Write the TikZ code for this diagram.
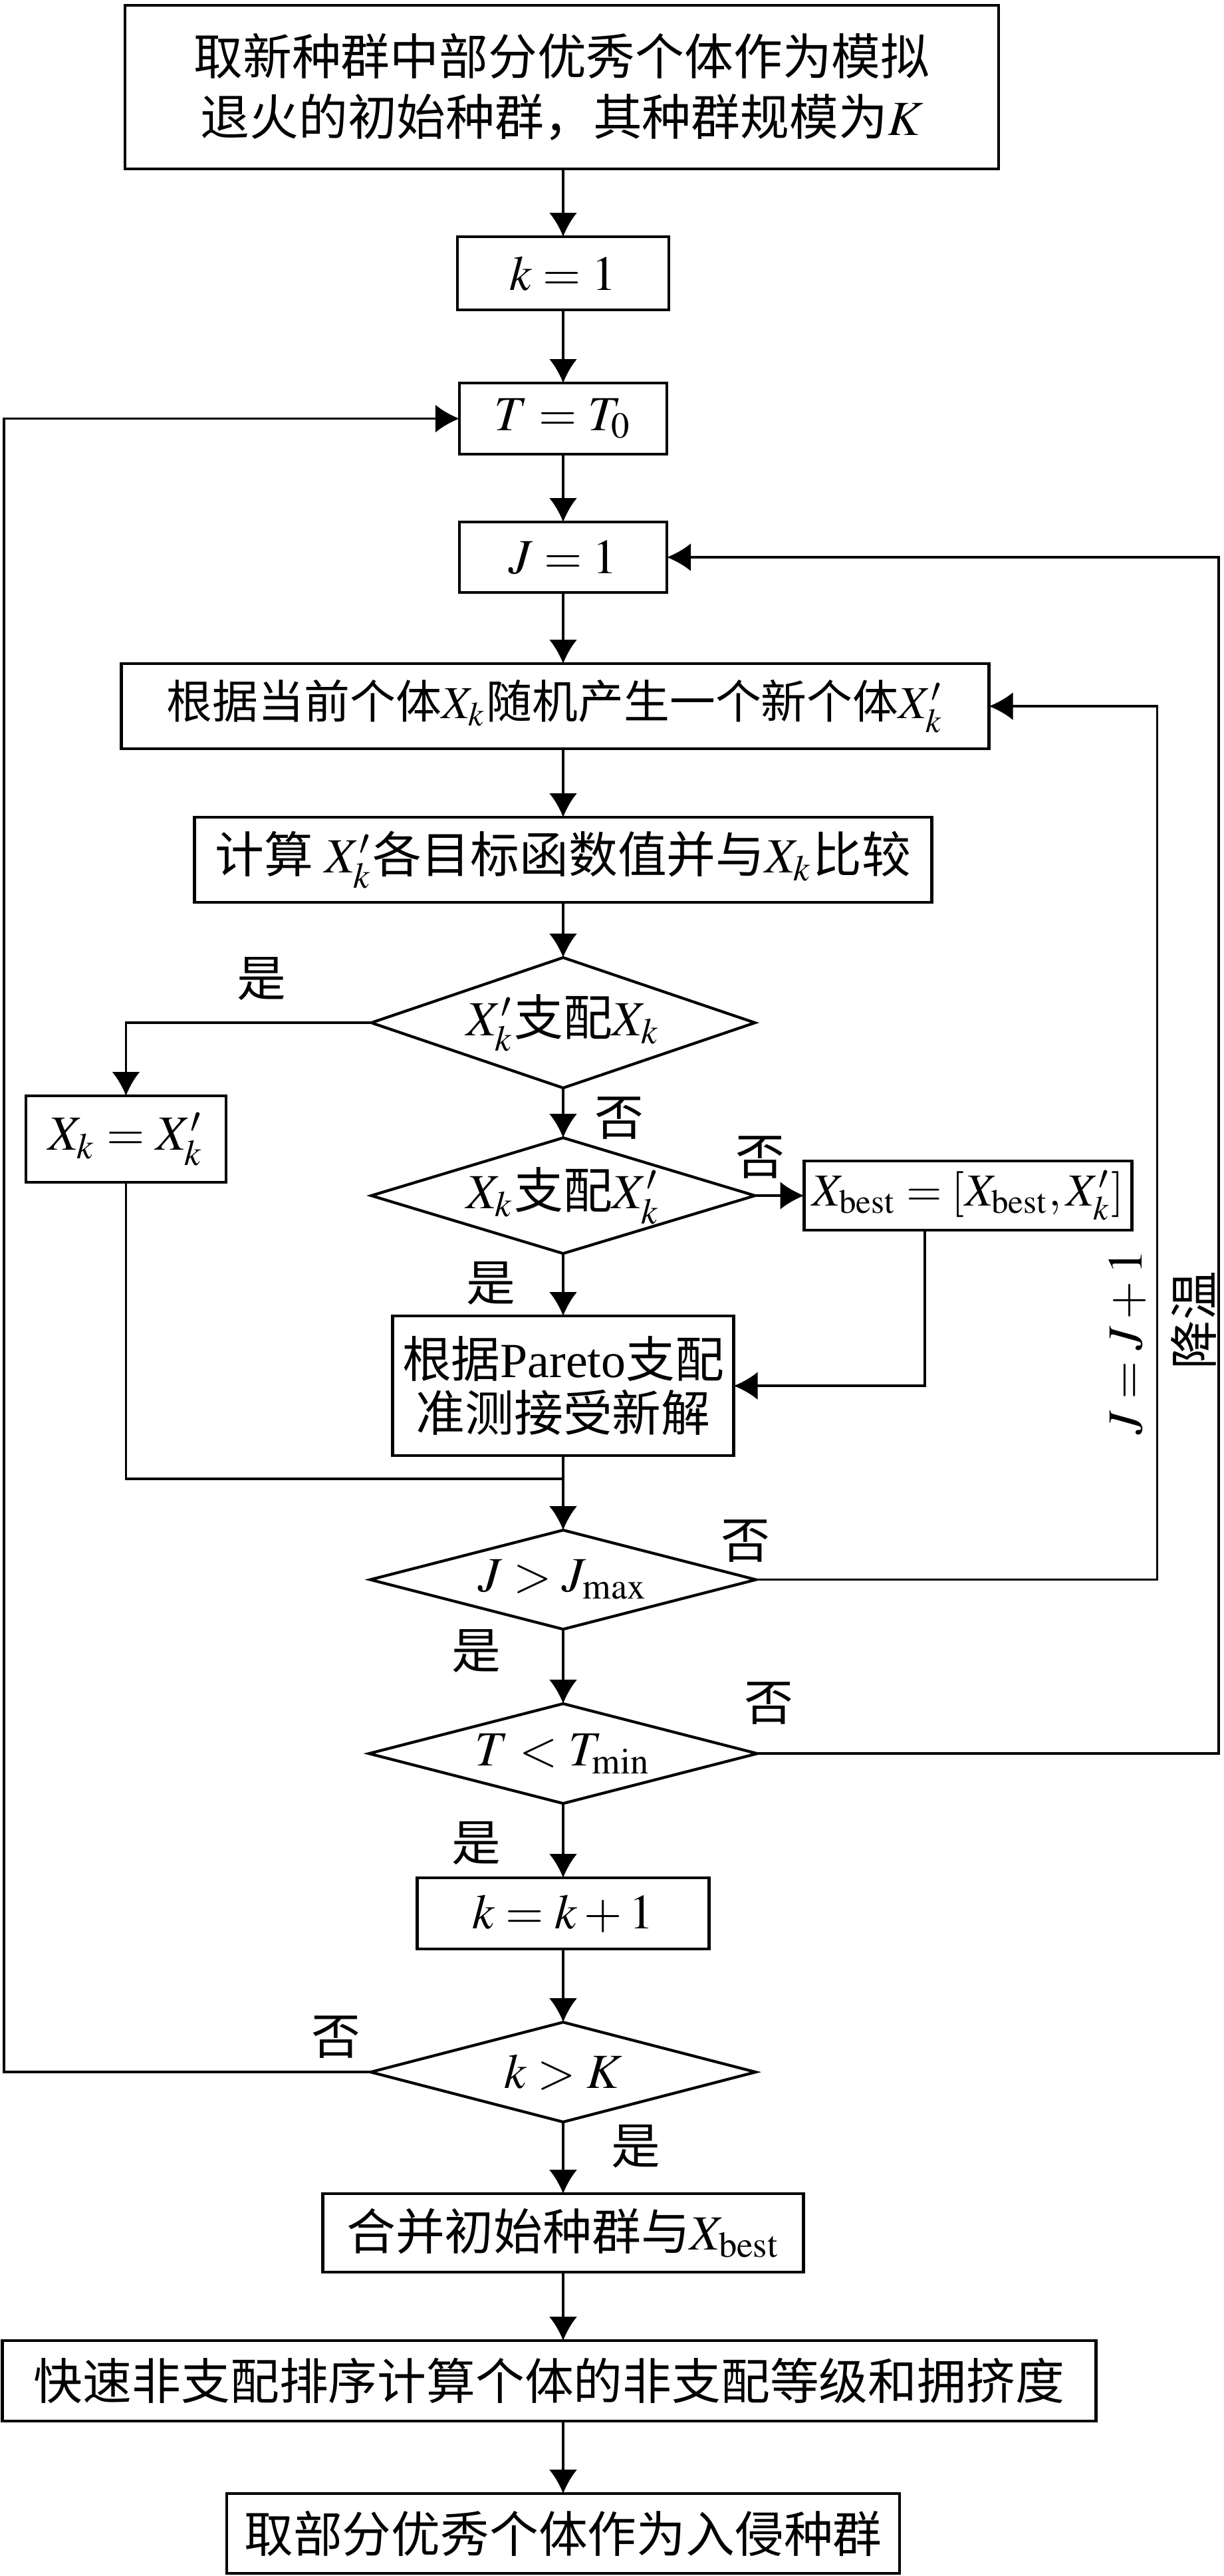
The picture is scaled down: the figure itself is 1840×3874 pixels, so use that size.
\documentclass[tikz,border=0pt]{standalone}
\usepackage{mathptmx}
\usepackage[no-math]{fontspec}
\setmainfont{Liberation Serif}
\newfontfamily\cjkfont{Noto Sans CJK SC}
\usetikzlibrary{shapes.geometric,arrows.meta,positioning}
\newcommand{\zhfont}{\cjkfont\fontsize{10.5}{13}\selectfont}

\begin{document}
\begin{tikzpicture}
                [
                    x=0.05mm, y=-0.05mm,
                    box/.style={rectangle, draw, line width=0.6pt, inner sep=0pt, outer sep=0pt, align=center, font=\zhfont},
                    decision/.style={diamond, draw, line width=0.6pt, inner sep=0pt, outer sep=0pt, aspect=3},
                    every label/.style={inner sep=0pt, font=\zhfont},
                    lbl/.style={inner sep=0pt, font=\zhfont},
                    arr/.style={-{Latex[length=1.8mm,width=2.1mm]}, line width=0.5pt},
                    line/.style={line width=0.5pt}
                ]
                \useasboundingbox (0,0) rectangle (1840,3874);

                \node [box, minimum width=65.7mm, minimum height=12.3mm] (init) at (845,131) {取新种群中部分优秀个体作为模拟\\退火的初始种群，其种群规模为$K$};
                \node [box, minimum width=15.9mm, minimum height=5.5mm] (k1) [below=5.1mm of init, xshift=0.1mm] {$k=1$};
                \node [box, minimum width=15.6mm, minimum height=5.35mm] (t0) [below=5.5mm of k1] {$T=T_0$};
                \node [box, minimum width=15.6mm, minimum height=5.3mm] (j1) [below=5.1mm of t0] {$J=1$};
                \node [box, minimum width=65.25mm, minimum height=6.4mm, font=\cjkfont\fontsize{9.8}{12}\selectfont] (gen) [below=5.35mm of j1, xshift=-0.6mm] {根据当前个体$X_k$随机产生一个新个体$X_k'$};
                \node [box, minimum width=55.45mm, minimum height=6.4mm] (calc) [below=5.15mm of gen, xshift=0.6mm] {计算 $X_k'$各目标函数值并与$X_k$比较};
                \node [decision, minimum width=28.85mm, minimum height=9.8mm, label=center:{$X_k'$支配$X_k$}] (d1) [below=4.15mm of calc] {};
                \node [box, minimum width=15.05mm, minimum height=6.5mm] (upd) [below=5.5mm of d1.west, xshift=-18.45mm] {$X_k=X_k'$};
                \node [decision, minimum width=28.85mm, minimum height=8.7mm, label=center:{$X_k$支配$X_k'$}] (d2) [below=3.75mm of d1] {};
                \node [box, minimum width=24.65mm, minimum height=5.2mm, font=\cjkfont\fontsize{9.8}{12}\selectfont] (best) [right=3.7mm of d2] {$X_{\mathrm{best}}=[X_{\mathrm{best}},X_k']$};
                \node [box, minimum width=25.65mm, minimum height=10.5mm, font=\cjkfont\fontsize{10.5}{11.5}\selectfont] (pareto) [below=4.7mm of d2] {根据{\rmfamily Pareto}支配\\准测接受新解};
                \node [decision, minimum width=29mm, minimum height=7.45mm, label=center:{$J>J_{\mathrm{max}}$}] (d3) [below=5.6mm of pareto] {};
                \node [decision, minimum width=29.2mm, minimum height=7.5mm, label=center:{$T<T_{\mathrm{min}}$}] (d4) [below=5.6mm of d3] {};
                \node [box, minimum width=21.95mm, minimum height=5.35mm] (kk) [below=5.6mm of d4] {$k=k+1$};
                \node [decision, minimum width=28.95mm, minimum height=7.5mm, label=center:{$k>K$}] (d5) [below=5.5mm of kk] {};
                \node [box, minimum width=36.15mm, minimum height=5.9mm] (comb) [below=5.4mm of d5] {合并初始种群与$X_{\mathrm{best}}$};
                \node [box, minimum width=82.25mm, minimum height=6.05mm] (fast) [below=5.15mm of comb, xshift=-1.05mm] {快速非支配排序计算个体的非支配等级和拥挤度};
                \node [box, minimum width=50.6mm, minimum height=6mm] (inv) [below=5.45mm of fast, xshift=1.05mm] {取部分优秀个体作为入侵种群};

                \coordinate (join) at ([yshift=-1.75mm]pareto.south);

                \draw [arr] (k1.north |- init.south) -- (k1);
                \draw [arr] (k1) -- (t0);
                \draw [arr] (t0) -- (j1);
                \draw [arr] (j1) -- (j1.south |- gen.north);
                \draw [arr] (calc.north |- gen.south) -- (calc);
                \draw [arr] (calc) -- (d1);
                \draw [arr] (d1) -- node[lbl, pos=0.6, xshift=4.2mm] {否} (d2);
                \draw [arr] (d1.west) -| node[lbl, pos=0.224, yshift=3.3mm] {是} (upd.north);
                \draw [arr] (d2.east) -- node[lbl, pos=0.1, yshift=2.9mm] {否} (best.west);
                \draw [arr] (d2) -- node[lbl, pos=0.48, xshift=-5.45mm] {是} (pareto);
                \draw [arr] ([xshift=-3.25mm]best.south) |- (pareto.east);
                \draw [line] (upd) |- (join);
                \draw [arr] (pareto) -- (d3);
                \draw [arr] (d3) -- node[lbl, pos=0.29, xshift=-6.55mm] {是} (d4);
                \draw [arr] (d3.east) -| node[lbl, pos=0, xshift=-0.8mm, yshift=2.9mm] {否} node[lbl, pos=0.636, xshift=-2.25mm, rotate=90] {$J=J+1$} ([xshift=12.65mm]gen.east) -- (gen.east);
                \draw [arr] (d4.east) -| node[lbl, pos=0, xshift=0.85mm, yshift=3.8mm] {否} node[lbl, pos=0.681, xshift=-1.9mm, rotate=90] {降温} ([xshift=41.5mm]j1.east) -- (j1.east);
                \draw [arr] (d4) -- node[lbl, pos=0.53, xshift=-6.55mm] {是} (kk);
                \draw [arr] (kk) -- (d5);
                \draw [arr] (d5.west) -| node[lbl, pos=0.047, yshift=2.65mm] {否} ([xshift=-34.25mm]t0.west) -- (t0.west);
                \draw [arr] (d5) -- node[lbl, pos=0.34, xshift=5.45mm] {是} (comb);
                \draw [arr] (comb) -- (comb.south |- fast.north);
                \draw [arr] (inv.north |- fast.south) -- (inv);

            \end{tikzpicture}
\end{document}
